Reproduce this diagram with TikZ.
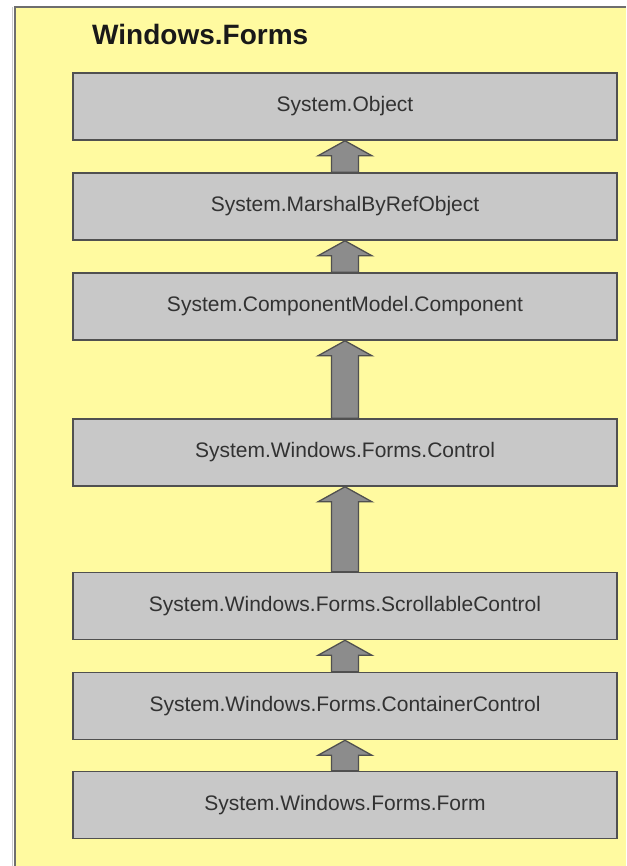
\documentclass[tikz,border=0pt]{standalone}
\usepackage{fontspec}
\setmainfont{Liberation Sans}
\usetikzlibrary{calc}
\definecolor{bgyellow}{RGB}{255,250,160}
\definecolor{boxgray}{RGB}{200,200,200}
\definecolor{boxline}{RGB}{80,80,80}
\definecolor{arrgray}{RGB}{140,140,140}
\definecolor{txtgray}{RGB}{50,50,50}
\definecolor{framegray}{RGB}{110,110,110}
\tikzset{
  classbox/.style={draw=boxline, line width=1.6pt, fill=boxgray,
    minimum width=544pt, minimum height=67pt, inner sep=0pt,
    text=txtgray, font=\fontsize{21}{24}\selectfont},
  inharrow/.style={draw=boxline, line width=1.3pt, fill=arrgray, line join=miter},
}
\newcommand{\inherit}[2]{% #1 = upper (parent), #2 = lower (child)
  \draw[inharrow] ($(#2.north)+(-13.5,0)$) -- ($(#1.south)+(-13.5,15)$)
    -- ($(#1.south)+(-27,15)$) -- (#1.south) -- ($(#1.south)+(27,15)$)
    -- ($(#1.south)+(13.5,15)$) -- ($(#2.north)+(13.5,0)$) -- cycle;}
\begin{document}
\begin{tikzpicture}[x=1pt,y=-1pt]
\useasboundingbox (0,0) rectangle (626,866);
\fill[white] (0,0) rectangle (626,866);
\fill[bgyellow] (15,7) rectangle (626,866);
\draw[framegray, line width=2pt] (15,866) -- (15,7) -- (626,7);
\draw[gray!40, line width=0.8pt] (12,866) -- (12,7);
\node[anchor=base west, inner sep=0pt, font=\bfseries\fontsize{28}{32}\selectfont, text=black!90] (title) at (92,45) {Windows.Forms};
\node[classbox] (obj) at (345,106.5) {System.Object};
\node[classbox] (mbr) at (345,206.5) {System.MarshalByRefObject};
\node[classbox] (comp) at (345,306.5) {System.ComponentModel.Component};
\node[classbox] (ctrl) at (345,452.5) {System.Windows.Forms.Control};
\node[classbox] (scroll) at (345,606) {System.Windows.Forms.ScrollableControl};
\node[classbox] (cont) at (345,706) {System.Windows.Forms.ContainerControl};
\node[classbox] (form) at (345,805) {System.Windows.Forms.Form};
\inherit{obj}{mbr}
\inherit{mbr}{comp}
\inherit{comp}{ctrl}
\inherit{ctrl}{scroll}
\inherit{scroll}{cont}
\inherit{cont}{form}
\end{tikzpicture}
\end{document}
